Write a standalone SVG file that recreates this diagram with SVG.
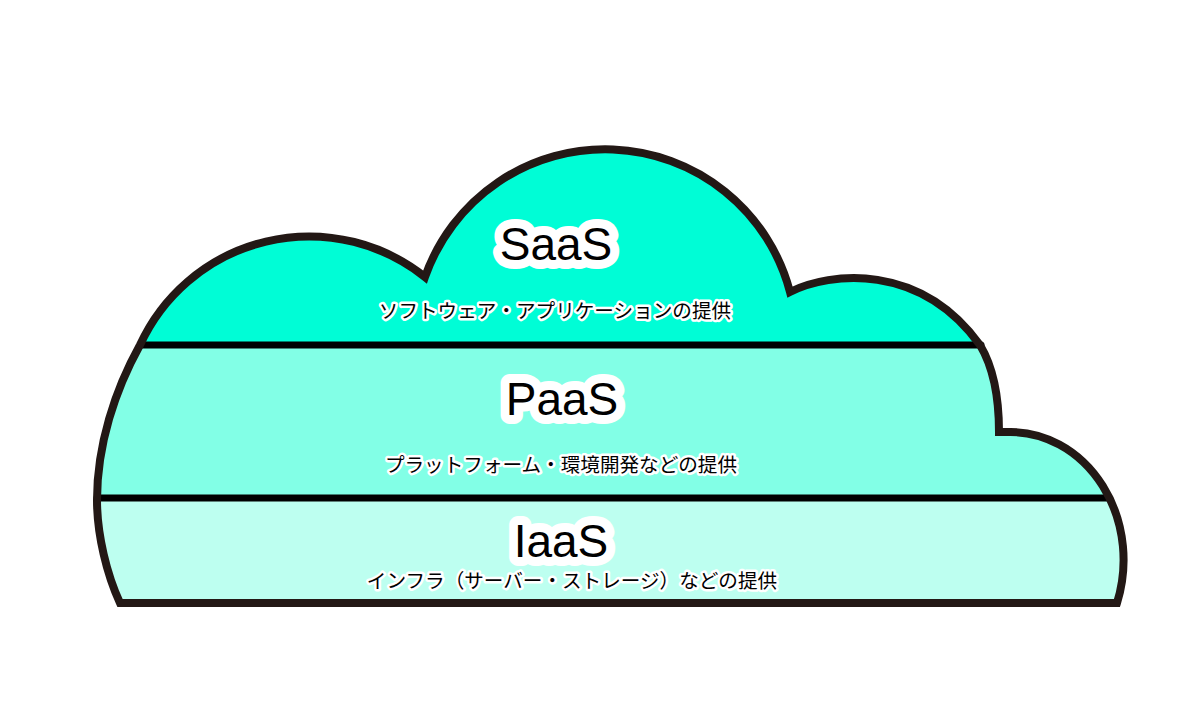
<svg xmlns="http://www.w3.org/2000/svg" width="1200" height="702" viewBox="0 0 1200 702">
  <style>
    .title { font-family: "Liberation Sans", Arial, sans-serif; font-size: 46px; fill: #000; text-anchor: middle; stroke: #fff; stroke-width: 18px; stroke-linejoin: round; paint-order: stroke; }
    .sub { font-family: "Noto Sans CJK JP", "Noto Sans", sans-serif; font-size: 19.6px; fill: #000; text-anchor: middle; stroke: #fff; stroke-width: 5px; stroke-linejoin: round; paint-order: stroke; }
    .divider { stroke: #000; stroke-width: 7; stroke-linecap: round; fill: none; }
    .outline { fill: none; stroke: #231815; stroke-width: 8; stroke-linejoin: miter; }
  </style>
  <defs>
    <path id="cloudShape" d="M 120 603 C 107 575 97 535 97 500 C 97 445 115 390 140 345 A 186 186 0 0 1 425 277 A 191 191 0 0 1 790 292 C 830 272 920 262 980 345 C 995 370 999 400 999 432 L 1010 432 A 113 128 0 0 1 1117 603 Z"/>
    <clipPath id="cloudClip">
      <use href="#cloudShape"/>
    </clipPath>
  </defs>
  <rect width="1200" height="702" fill="#fff"/>
  <g id="layers" clip-path="url(#cloudClip)">
    <rect id="saas-band" x="0" y="0" width="1200" height="345" fill="#00fdd6"/>
    <rect id="paas-band" x="0" y="345" width="1200" height="153" fill="#82ffe6"/>
    <rect id="iaas-band" x="0" y="498" width="1200" height="120" fill="#bdfff0"/>
  </g>
  <g id="connectors">
    <line class="divider" x1="141" y1="345" x2="981" y2="345"/>
    <line class="divider" x1="97" y1="498" x2="1108" y2="498"/>
  </g>
  <use id="cloud-outline" href="#cloudShape" class="outline"/>
  <g id="saas">
    <text class="title" x="556" y="260">SaaS</text>
    <text class="sub" x="555" y="318">ソフトウェア・アプリケーションの提供</text>
  </g>
  <g id="paas">
    <text class="title" x="562" y="415">PaaS</text>
    <text class="sub" x="561" y="472">プラットフォーム・環境開発などの提供</text>
  </g>
  <g id="iaas">
    <text class="title" x="561" y="557">IaaS</text>
    <text class="sub" x="572" y="588">インフラ（サーバー・ストレージ）などの提供</text>
  </g>
</svg>
